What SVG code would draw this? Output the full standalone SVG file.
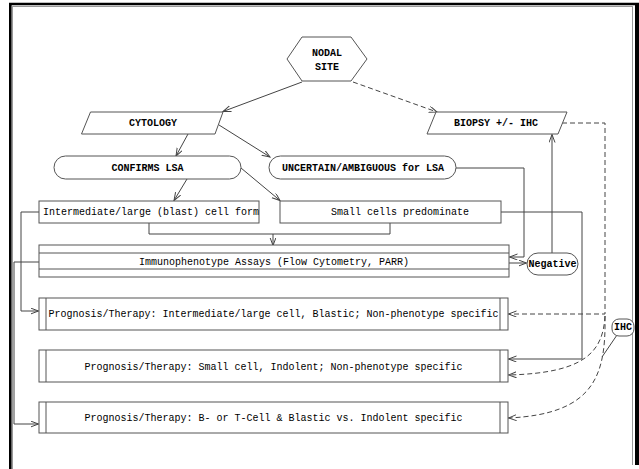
<svg xmlns="http://www.w3.org/2000/svg" width="639" height="469" viewBox="0 0 639 469">
<style>
.box{fill:#fff;stroke:#555;stroke-width:1}
.t{font-family:"Liberation Mono","Courier New",monospace;font-size:10px;fill:#000;dominant-baseline:central}
.b{font-weight:bold}
.c{text-anchor:middle}
.ln{fill:none;stroke:#444;stroke-width:1}
.dash{stroke-dasharray:5,3}
</style>
<defs>
<marker id="ah" markerWidth="10" markerHeight="8" refX="8" refY="3" orient="auto" markerUnits="userSpaceOnUse">
<path d="M0,0 L8,3 L0,6" fill="none" stroke="#444" stroke-width="1"/>
</marker>
</defs>
<rect x="0" y="0" width="639" height="469" fill="#fff"/>
<g id="frame">
<line x1="12.5" y1="6" x2="12.5" y2="469" stroke="#999" stroke-width="1"/>
<line x1="12" y1="6.5" x2="633" y2="6.5" stroke="#999" stroke-width="1"/>
<line x1="632.5" y1="6" x2="632.5" y2="465" stroke="#999" stroke-width="1"/>
<line x1="10.3" y1="3" x2="10.3" y2="469" stroke="#000" stroke-width="2.6"/>
<line x1="9" y1="4" x2="639" y2="4" stroke="#000" stroke-width="2.6"/>
<line x1="637" y1="3" x2="637" y2="465" stroke="#000" stroke-width="4"/>
</g>
<g id="connectors">
<line class="ln" x1="302" y1="82" x2="223" y2="111.5" marker-end="url(#ah)"/>
<line class="ln dash" x1="353" y1="82" x2="437" y2="112" marker-end="url(#ah)"/>
<line class="ln" x1="188" y1="134" x2="176" y2="156" marker-end="url(#ah)"/>
<line class="ln" x1="219" y1="125" x2="270" y2="157" marker-end="url(#ah)"/>
<line class="ln" x1="187" y1="179" x2="174" y2="200.5" marker-end="url(#ah)"/>
<line class="ln" x1="241" y1="168" x2="280" y2="200.5" marker-end="url(#ah)"/>
<polyline class="ln" points="149,223 149,234 390,234 390,223"/>
<line class="ln" x1="273" y1="234" x2="273" y2="245.5" marker-end="url(#ah)"/>
<polyline class="ln" points="456,168 524,168 524,257 509.5,257" marker-end="url(#ah)"/>
<line class="ln" x1="509" y1="263" x2="526.5" y2="263" marker-end="url(#ah)"/>
<line class="ln" x1="552" y1="253" x2="552" y2="134.5" marker-end="url(#ah)"/>
<polyline class="ln dash" points="562,123 605,123 605,314 508.5,314" marker-end="url(#ah)"/>
<polyline class="ln" points="501,212 582,212 582,359 508.5,359" marker-end="url(#ah)"/>
<polyline class="ln" points="39,212 21,212 21,311 38.5,311" marker-end="url(#ah)"/>
<polyline class="ln" points="39,262 14,262 14,424 38.5,424" marker-end="url(#ah)"/>
<path class="ln dash" d="M605,316 C603,352 585,373 508.5,375" marker-end="url(#ah)"/>
<path class="ln dash" d="M605,316 C606,375 595,414 508.5,418" marker-end="url(#ah)"/>
<line class="ln" x1="617" y1="335" x2="602" y2="357"/>
</g>
<g id="nodal">
<polygon class="box" points="287,59 302,37 351,37 367,59 351,81 302,81"/>
<text class="t b c" x="327" y="53">NODAL</text>
<text class="t b c" x="327" y="67">SITE</text>
</g>
<g id="cytology">
<polygon class="box" points="90.5,112 223,112 215,134 81.5,134"/>
<text class="t b c" x="153" y="123">CYTOLOGY</text>
</g>
<g id="biopsy">
<polygon class="box" points="436,112 567,112 558,134 427,134"/>
<text class="t b c" x="496" y="123">BIOPSY +/- IHC</text>
</g>
<g id="confirms">
<rect class="box" x="54" y="156" width="187" height="23" rx="11.5"/>
<text class="t b c" x="147.5" y="168">CONFIRMS LSA</text>
</g>
<g id="uncertain">
<rect class="box" x="269" y="156" width="187" height="23" rx="11.5"/>
<text class="t b c" x="363" y="168">UNCERTAIN/AMBIGUOUS for LSA</text>
</g>
<g id="intermediate">
<rect class="box" x="39" y="201" width="220" height="22"/>
<text class="t" x="43" y="212">Intermediate/large (blast) cell form</text>
</g>
<g id="small">
<rect class="box" x="280" y="201" width="221" height="22"/>
<text class="t c" x="400" y="212">Small cells predominate</text>
</g>
<g id="immuno">
<rect class="box" x="39" y="245" width="470" height="32"/>
<line class="box" x1="39" y1="253" x2="509" y2="253"/>
<line class="box" x1="39" y1="269" x2="509" y2="269"/>
<text class="t c" x="274" y="262">Immunophenotype Assays (Flow Cytometry, PARR)</text>
</g>
<g id="negative">
<rect class="box" x="527" y="253" width="51" height="22" rx="11"/>
<text class="t b c" x="552.5" y="264">Negative</text>
</g>
<g id="prog1">
<rect class="box" x="39" y="298" width="469" height="32"/>
<line class="box" x1="46" y1="298" x2="46" y2="330"/>
<line class="box" x1="500" y1="298" x2="500" y2="330"/>
<text class="t c" x="273.5" y="314">Prognosis/Therapy: Intermediate/large cell, Blastic; Non-phenotype specific</text>
</g>
<g id="prog2">
<rect class="box" x="39" y="350" width="469" height="32"/>
<line class="box" x1="46" y1="350" x2="46" y2="382"/>
<line class="box" x1="500" y1="350" x2="500" y2="382"/>
<text class="t c" x="273.5" y="367">Prognosis/Therapy: Small cell, Indolent; Non-phenotype specific</text>
</g>
<g id="prog3">
<rect class="box" x="39" y="402" width="469" height="31"/>
<line class="box" x1="46" y1="402" x2="46" y2="433"/>
<line class="box" x1="500" y1="402" x2="500" y2="433"/>
<text class="t c" x="273.5" y="418">Prognosis/Therapy: B- or T-Cell &amp; Blastic vs. Indolent specific</text>
</g>
<g id="ihc">
<rect class="box" x="612" y="319" width="22" height="17" rx="7"/>
<text class="t b c" x="623" y="327.5">IHC</text>
</g>
</svg>
